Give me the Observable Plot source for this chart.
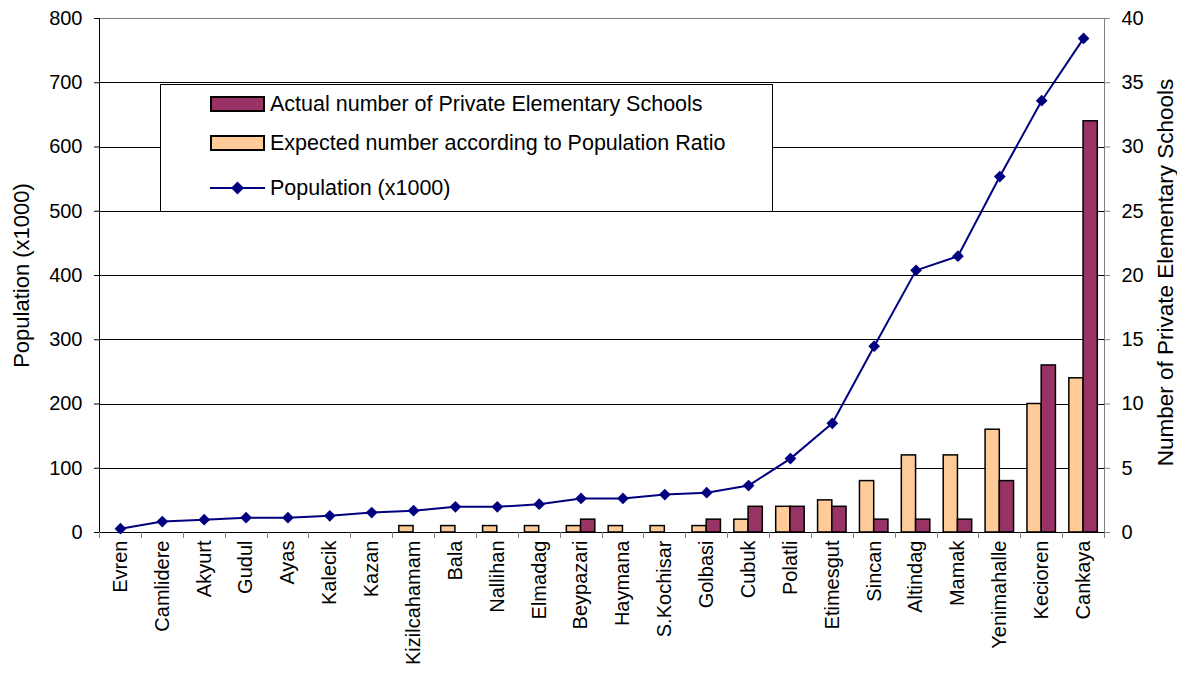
<!DOCTYPE html>
<html>
<head>
<meta charset="utf-8">
<script src="https://cdn.jsdelivr.net/npm/d3@7"></script>
<script src="https://cdn.jsdelivr.net/npm/@observablehq/plot@0.6"></script>
<style>
  body { margin: 0; background: #fff; font-family: "Liberation Sans", Arial, sans-serif; }
  #wrap { position: relative; width: 1177px; height: 682px; }
  #legend { position: absolute; left: 160px; top: 84px; width: 613px; height: 128px; background: #fff; border: 1px solid #000; box-sizing: border-box; }
  .item { position: absolute; left: 49px; height: 24px; display: flex; align-items: center; font-size: 21.5px; color: #000; }
  .sw { width: 55px; height: 16px; box-sizing: border-box; border: 2px solid #000; margin-right: 5px; }
</style>
</head>
<body>
<div id="wrap"></div>
<script>
const districts = ["Evren","Camlidere","Akyurt","Gudul","Ayas","Kalecik","Kazan","Kizilcahamam","Bala","Nallihan","Elmadag","Beypazari","Haymana","S.Kochisar","Golbasi","Cubuk","Polatli","Etimesgut","Sincan","Altindag","Mamak","Yenimahalle","Kecioren","Cankaya"];
const population = [6,17,20,23,23,26,31,34,40,40,44,53,53,59,62,73,115,170,290,408,430,554,672,769];
const actualSchools = [0,0,0,0,0,0,0,0,0,0,0,1,0,0,1,2,2,2,1,1,1,4,13,32];
const expectedSchools = [0,0,0,0,0,0,0,0.5,0.5,0.5,0.5,0.5,0.5,0.5,0.5,1,2,2.5,4,6,6,8,10,12];
const leftTicks = [0,100,200,300,400,500,600,700,800];
const rightTicks = [0,5,10,15,20,25,30,35,40];
const seriesNames = ["Actual number of Private Elementary Schools","Expected number according to Population Ratio","Population (x1000)"];
const yTitleLeft = "Population (x1000)";
const yTitleRight = "Number of Private Elementary Schools";

const W = 1177, H = 682, mL = 99, mR = 73, mT = 18, mB = 150;
const ratio = 800 / 40; // right axis mapped onto left axis
const rows = districts.map((d, i) => ({district: d, pop: population[i], actual: actualSchools[i], expected: expectedSchools[i]}));
const step = (W - mL - mR) / districts.length;
const bw = step * 0.68;           // width of the pair of bars
const outer = (step - bw) / 2;    // gap on each side of the pair

const chart = Plot.plot({
  width: W, height: H,
  marginLeft: mL, marginRight: mR, marginTop: mT, marginBottom: mB,
  style: {fontFamily: "'Liberation Sans', Arial, sans-serif", fontSize: "20px", color: "#000", background: "#fff"},
  x: {type: "band", domain: districts, padding: 0, round: false},
  y: {domain: [0, 800]},
  marks: [
    Plot.frame({stroke: "#808080", shapeRendering: "crispEdges"}),
    Plot.ruleY(leftTicks.filter(t => t > 0 && t < 800), {stroke: "#000", strokeWidth: 1, shapeRendering: "crispEdges"}),
    Plot.barY(rows, {x: "district", y: d => d.expected * ratio, fill: "#FFCC99", stroke: "#000", strokeWidth: 1.5, insetLeft: outer, insetRight: step / 2}),
    Plot.barY(rows, {x: "district", y: d => d.actual * ratio, fill: "#993366", stroke: "#000", strokeWidth: 1.5, insetLeft: step / 2, insetRight: outer}),
    Plot.ruleY([0], {stroke: "#000", strokeWidth: 1, shapeRendering: "crispEdges"}),
    Plot.ruleX([districts[0]], {dx: -step / 2, stroke: "#000", strokeWidth: 1, shapeRendering: "crispEdges"}),
    Plot.ruleX(districts, {x: d => d, dx: -step / 2, y1: 0, y2: -9, stroke: "#808080", shapeRendering: "crispEdges"}),
    Plot.ruleX([districts[districts.length - 1]], {dx: step / 2, y1: 0, y2: -9, stroke: "#808080", shapeRendering: "crispEdges"}),
    Plot.line(rows, {x: "district", y: "pop", stroke: "#000080", strokeWidth: 2}),
    Plot.dot(rows, {x: "district", y: "pop", symbol: "diamond2", r: 5.3, fill: "#000080", stroke: "none"}),
    Plot.axisX({tickSize: 0, tickPadding: 8, tickRotate: -90, label: null, fontSize: 20}),
    Plot.axisY({anchor: "left", ticks: leftTicks, tickSize: 5, tickPadding: 12, label: null, fontSize: 20, stroke: "#000"}),
    Plot.axisY({anchor: "right", ticks: rightTicks.map(t => t * ratio), tickFormat: d => d / ratio, tickSize: 5, tickPadding: 12, label: null, fontSize: 20, stroke: "#808080"}),
    Plot.text([yTitleLeft], {frameAnchor: "left", dx: -78, rotate: -90, textAnchor: "middle", fontSize: 22, fill: "#000"}),
    Plot.text([yTitleRight], {frameAnchor: "right", dx: 61, dy: -3, rotate: -90, textAnchor: "middle", fontSize: 22.5, fill: "#000"})
  ]
});

const wrap = document.getElementById("wrap");
wrap.appendChild(chart);

const legend = document.createElement("div");
legend.id = "legend";
const entries = [
  {label: seriesNames[0], type: "bar", color: "#993366", top: 7},
  {label: seriesNames[1], type: "bar", color: "#FFCC99", top: 46},
  {label: seriesNames[2], type: "line", color: "#000080", top: 91}
];
for (const e of entries) {
  const it = document.createElement("div");
  it.className = "item";
  it.style.top = e.top + "px";
  if (e.type === "bar") {
    const sw = document.createElement("div");
    sw.className = "sw";
    sw.style.background = e.color;
    it.appendChild(sw);
  } else {
    const ns = "http://www.w3.org/2000/svg";
    const s = document.createElementNS(ns, "svg");
    s.setAttribute("width", 55); s.setAttribute("height", 16);
    s.style.marginRight = "5px";
    const l = document.createElementNS(ns, "line");
    l.setAttribute("x1", 0); l.setAttribute("x2", 55); l.setAttribute("y1", 8); l.setAttribute("y2", 8);
    l.setAttribute("stroke", e.color); l.setAttribute("stroke-width", 2);
    const p = document.createElementNS(ns, "path");
    p.setAttribute("d", "M27.5,1.5 L34,8 L27.5,14.5 L21,8 Z");
    p.setAttribute("fill", e.color);
    s.appendChild(l); s.appendChild(p);
    it.appendChild(s);
  }
  const t = document.createElement("span");
  t.textContent = e.label;
  it.appendChild(t);
  legend.appendChild(it);
}
wrap.appendChild(legend);
</script>
</body>
</html>
